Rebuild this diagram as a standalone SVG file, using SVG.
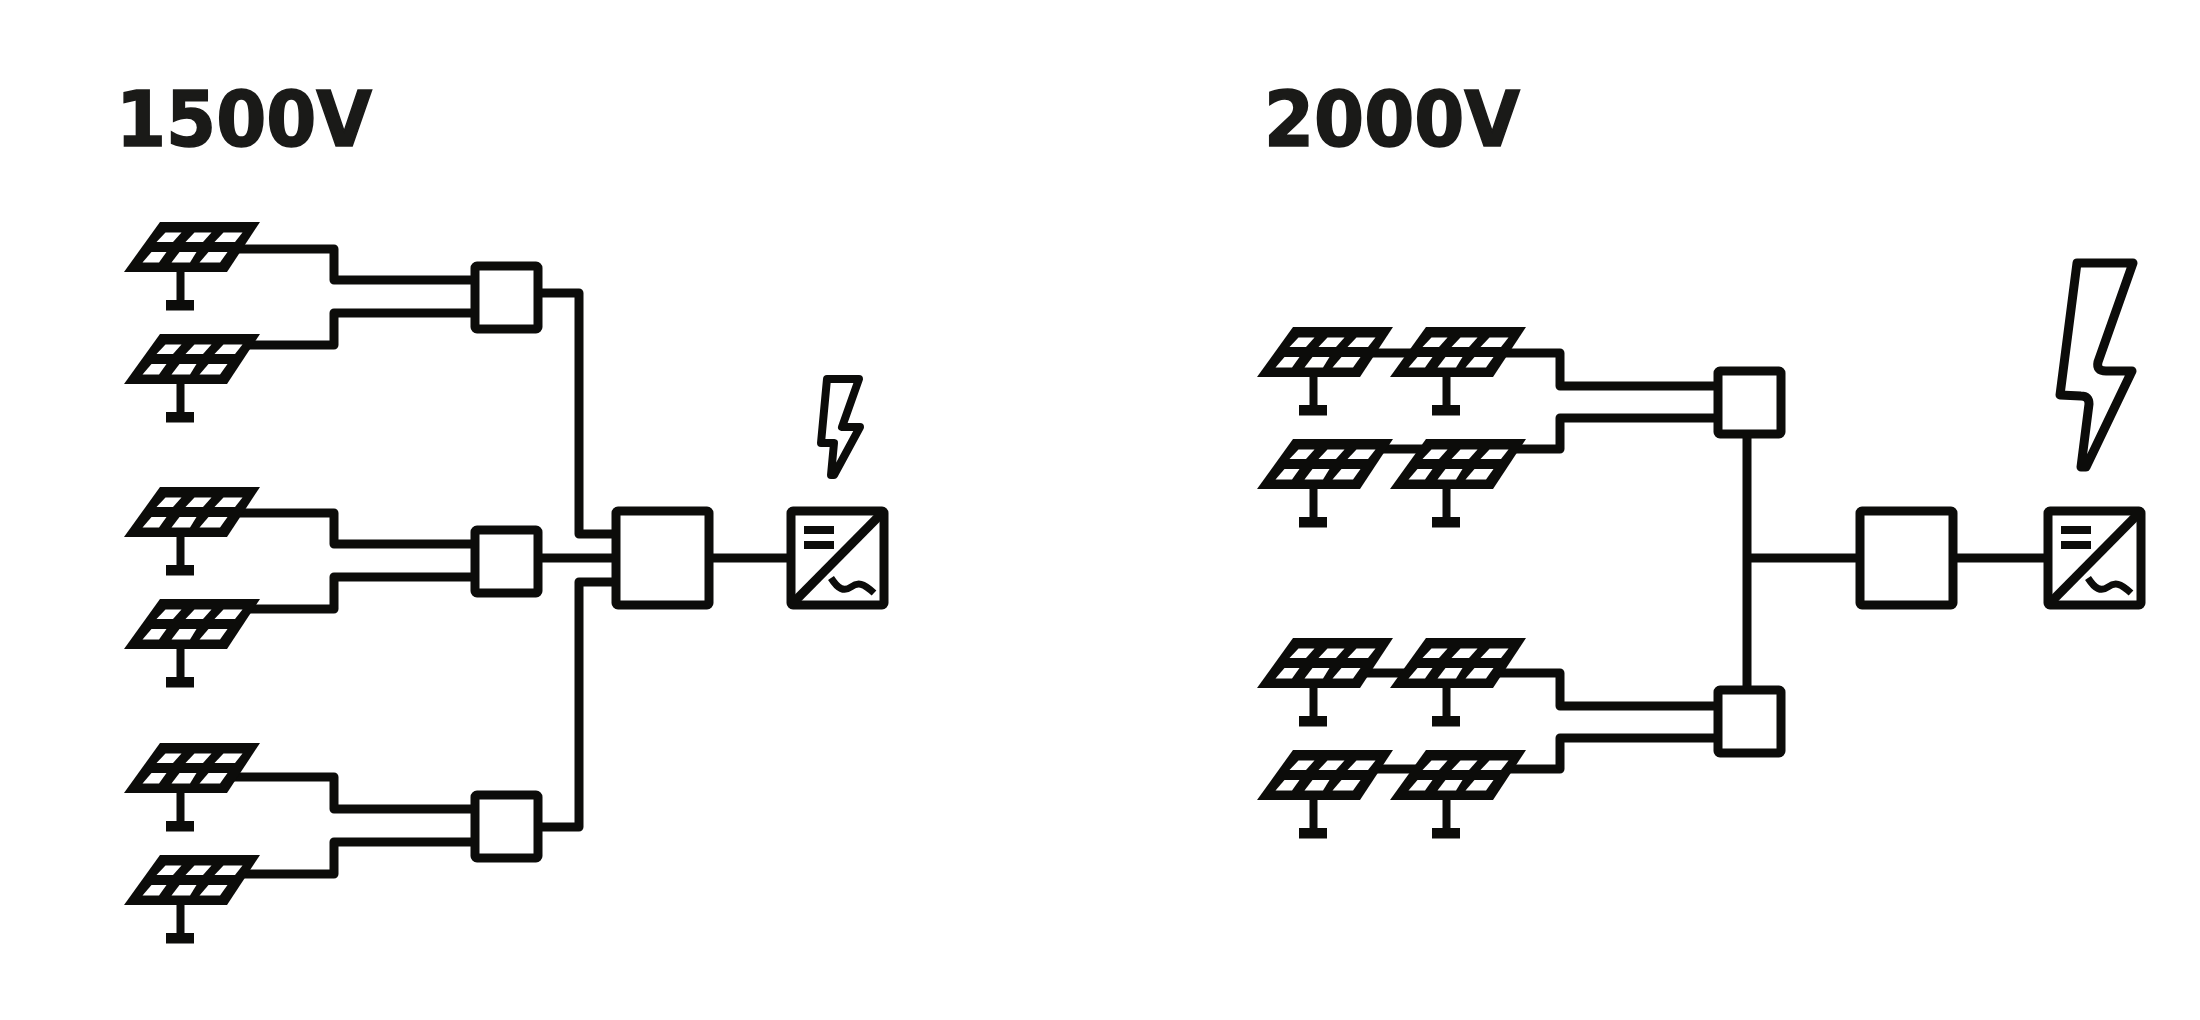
<svg xmlns="http://www.w3.org/2000/svg" width="2200" height="1020" viewBox="0 0 2200 1020">
<style>
.t{font-family:"DejaVu Sans","Liberation Sans",sans-serif;font-weight:700;font-size:72px;letter-spacing:0;fill:#1a1a18;stroke:#1a1a18;stroke-width:1.5}
.w{fill:none;stroke:#0c0c0a;stroke-width:9;stroke-linejoin:round}
.b{fill:#fff;stroke:#0c0c0a;stroke-width:9;stroke-linejoin:round}
.k{fill:#0c0c0a}
.c{fill:#fff}
</style>
<defs>
<g id="pv">
<polygon class="k" points="36,0 136,0 103,50 0,50"/>
<rect class="k" x="52.5" y="50" width="8" height="30"/>
<rect class="k" x="42" y="78" width="28" height="10.5"/>
<polygon class="c" points="41.5,10.5 57.5,10.5 49,20 32.5,20"/>
<polygon class="c" points="70.5,10.5 87.5,10.5 79,20 61.5,20"/>
<polygon class="c" points="99.5,10.5 118.5,10.5 111,20 90.5,20"/>
<polygon class="c" points="27.5,30 42.5,30 35,40.5 18.5,40.5"/>
<polygon class="c" points="55.5,30 72.5,30 66,40.5 47.5,40.5"/>
<polygon class="c" points="84.5,30 103.5,30 96,40.5 75.5,40.5"/>
</g>
<g id="combiner"><rect class="b" x="0" y="0" width="63" height="63" rx="2"/></g>
<g id="bigbox"><rect class="b" x="0" y="0" width="93" height="94" rx="2"/></g>
<g id="inv">
<rect class="b" x="0" y="0" width="93" height="94" rx="2"/>
<path class="w" d="M0,94 L93,0"/>
<rect class="k" x="13" y="15" width="30" height="8"/>
<rect class="k" x="13" y="30" width="30" height="8"/>
<path class="w" style="stroke-width:7" d="M40,67 C47,78 53,81 60,76 C67,71 72,72 83,82"/>
</g>
</defs>
<rect width="2200" height="1020" fill="#fff"/>
<text id="title-1500" class="t" transform="translate(116,146) scale(1,1.07)">1500V</text>
<text id="title-2000" class="t" transform="translate(1264,146) scale(1,1.07)">2000V</text>
<g id="connectors">
<path class="w" d="M238,249 H334 V280 H471"/>
<path class="w" d="M248,345 H334 V313 H471"/>
<path class="w" d="M240,513 H334 V544 H471"/>
<path class="w" d="M250,609 H334 V577 H471"/>
<path class="w" d="M232,777 H334 V809 H471"/>
<path class="w" d="M240,874 H334 V842 H471"/>
<path class="w" d="M542,293 H579 V534 H612"/>
<path class="w" d="M542,558 H612"/>
<path class="w" d="M542,827 H579 V582 H612"/>
<path class="w" d="M713,558 H787"/>
<path class="w" d="M1372,353 H1415"/>
<path class="w" d="M1505,353 H1560 V386 H1714"/>
<path class="w" d="M1382,449 H1422"/>
<path class="w" d="M1515,449 H1560 V418 H1714"/>
<path class="w" d="M1366,673 H1405"/>
<path class="w" d="M1499,673 H1560 V706 H1714"/>
<path class="w" d="M1376,769 H1420"/>
<path class="w" d="M1509,769 H1560 V738 H1714"/>
<path class="w" d="M1747,438 V690"/>
<path class="w" d="M1747,558 H1856"/>
<path class="w" d="M1957,558 H2044"/>
</g>
<g id="pv-a1"><use href="#pv" x="124" y="222"/></g>
<g id="pv-a2"><use href="#pv" x="124" y="334"/></g>
<g id="pv-a3"><use href="#pv" x="124" y="487"/></g>
<g id="pv-a4"><use href="#pv" x="124" y="599"/></g>
<g id="pv-a5"><use href="#pv" x="124" y="743"/></g>
<g id="pv-a6"><use href="#pv" x="124" y="855"/></g>
<g id="box-a1"><use href="#combiner" x="475" y="266"/></g>
<g id="box-a2"><use href="#combiner" x="475" y="530"/></g>
<g id="box-a3"><use href="#combiner" x="475" y="795"/></g>
<g id="main-a"><use href="#bigbox" x="616" y="511"/></g>
<g id="inv-a"><use href="#inv" x="791" y="511"/></g>
<g id="bolt-a"><path class="b" style="fill:none;stroke-width:8" d="M827,379 H859 L842,427 H860 L834,475 H831 L834,443 H821 Z"/></g>
<g id="pv-b1"><use href="#pv" x="1257" y="327"/></g>
<g id="pv-b2"><use href="#pv" x="1390" y="327"/></g>
<g id="pv-b3"><use href="#pv" x="1257" y="439"/></g>
<g id="pv-b4"><use href="#pv" x="1390" y="439"/></g>
<g id="pv-b5"><use href="#pv" x="1257" y="638"/></g>
<g id="pv-b6"><use href="#pv" x="1390" y="638"/></g>
<g id="pv-b7"><use href="#pv" x="1257" y="750"/></g>
<g id="pv-b8"><use href="#pv" x="1390" y="750"/></g>
<g id="box-b1"><use href="#combiner" x="1718" y="371"/></g>
<g id="box-b2"><use href="#combiner" x="1718" y="690"/></g>
<g id="main-b"><use href="#bigbox" x="1860" y="511"/></g>
<g id="inv-b"><use href="#inv" x="2048" y="511"/></g>
<g id="bolt-b"><path class="b" style="fill:none" d="M2077,263 H2133 L2098,362 Q2096,371 2106,371 H2132 L2086,467 L2081,467 L2089,404 Q2089,396 2081,396 L2060,395 Z"/></g>
</svg>
